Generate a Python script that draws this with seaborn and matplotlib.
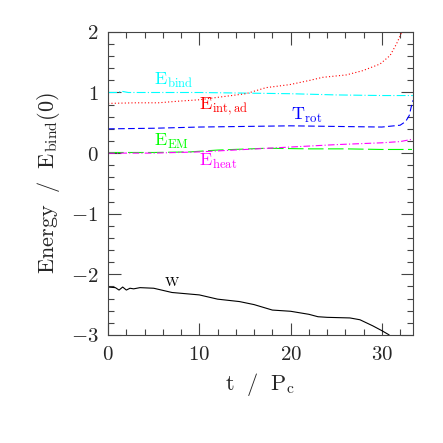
import matplotlib
matplotlib.use("Agg")
import matplotlib.pyplot as plt
import seaborn as sns
import numpy as np
import pandas as pd
from matplotlib.ticker import MultipleLocator

# ---- data ----
t_bind = [0, 1.0, 1.5, 2.2, 5, 10, 15, 20, 25, 30, 33.4]
e_bind = [1.0, 1.0, 1.02, 1.0, 1.0, 1.0, 0.99, 0.98, 0.96, 0.95, 0.95]

t_int = [0, 3, 5.5, 8, 10, 12, 15.1, 17.3, 19.9, 22.1, 23.5, 26.1, 27.9, 29.8, 30.9, 31.6, 32.2]
e_int = [0.82, 0.83, 0.83, 0.86, 0.88, 0.92, 0.98, 1.08, 1.13, 1.20, 1.25, 1.29, 1.36, 1.47, 1.61, 1.80, 2.0]

t_rot = [0, 5, 10, 15, 20, 25, 30, 32, 32.6, 33.0, 33.2, 33.4]
e_rot = [0.40, 0.41, 0.43, 0.44, 0.45, 0.44, 0.43, 0.46, 0.52, 0.62, 0.75, 0.87]

t_em = [0, 5, 9, 12, 17.3, 22, 26, 30, 33.3]
e_em = [0.01, 0.01, 0.02, 0.05, 0.08, 0.07, 0.07, 0.06, 0.06]

t_heat = [0, 5, 10, 15, 20, 25, 30, 32, 33.4]
e_heat = [0.0, 0.0, 0.02, 0.06, 0.10, 0.14, 0.17, 0.19, 0.23]

t_w = [0, 0.8, 1.2, 1.6, 2.0, 2.4, 2.8, 3.5, 5, 7, 10, 12, 14.4, 16, 18, 20, 22, 23,
       24, 26.5, 27.6, 29, 30, 30.8]
e_w = [-2.21, -2.22, -2.26, -2.21, -2.26, -2.23, -2.24, -2.22, -2.23, -2.30, -2.34,
       -2.41, -2.45, -2.50, -2.59, -2.61, -2.66, -2.70, -2.71, -2.72, -2.75, -2.85,
       -2.93, -3.0]

x_ticks = [0, 10, 20, 30]
x_ticklabels = ["$0$", "$10$", "$20$", "$30$"]
y_ticks = [-3, -2, -1, 0, 1, 2]
y_ticklabels = ["$-3$", "$-2$", "$-1$", "$0$", "$1$", "$2$"]

labels = ["$\\mathrm{E_{bind}}$", "$\\mathrm{E_{int,ad}}$", "$\\mathrm{T_{rot}}$",
          "$\\mathrm{E_{EM}}$", "$\\mathrm{E_{heat}}$", "$\\mathrm{W}$"]

# ---- style ----
sns.set_style("ticks")
plt.rcParams["mathtext.fontset"] = "cm"
plt.rcParams["font.family"] = ["DejaVu Serif"]

fig = plt.figure(figsize=(4.43, 4.43), dpi=100)
ax = fig.add_axes([0.244, 0.244, 0.688, 0.684])

series = [
    (t_bind, e_bind, "#00ffff", (0, (8, 2, 1, 2))),
    (t_int, e_int, "#ff0000", (0, (1, 2))),
    (t_rot, e_rot, "#0000ff", (0, (6, 3))),
    (t_em, e_em, "#00ff00", (0, (14, 4))),
    (t_heat, e_heat, "#ff00ff", (0, (6, 2, 1, 2))),
    (t_w, e_w, "#000000", "-"),
]
for t, e, c, ls in series:
    df = pd.DataFrame({"t": t, "e": e})
    sns.lineplot(data=df, x="t", y="e", ax=ax, color=c, linewidth=0.8,
                 linestyle=ls, sort=False, estimator=None)

# curve labels
ax.text(5.0, 1.2, labels[0], color="#00ffff", fontsize=13, va="center", ha="left")
ax.text(10.0, 0.77, labels[1], color="#ff0000", fontsize=13, va="center", ha="left")
ax.text(20.0, 0.62, labels[2], color="#0000ff", fontsize=13, va="center", ha="left")
ax.text(5.0, 0.19, labels[3], color="#00ff00", fontsize=13, va="center", ha="left")
ax.text(10.0, -0.13, labels[4], color="#ff00ff", fontsize=13, va="center", ha="left")
ax.text(6.1, -2.12, labels[5], color="#000000", fontsize=10, va="center", ha="left")

ax.set_xlim(0, 33.4)
ax.set_ylim(-3, 2)
ax.set_xticks(x_ticks)
ax.set_xticklabels(x_ticklabels, fontsize=15)
ax.set_yticks(y_ticks)
ax.set_yticklabels(y_ticklabels, fontsize=15)
ax.xaxis.set_minor_locator(MultipleLocator(2))
ax.yaxis.set_minor_locator(MultipleLocator(0.2))
ax.tick_params(which="both", direction="in", top=True, right=True, width=0.8, color="#444444")
ax.tick_params(which="major", length=9, pad=7)
ax.tick_params(which="minor", length=4.5)
for s in ax.spines.values():
    s.set_linewidth(0.8)
    s.set_color("#444444")

ax.set_xlabel("$\\mathrm{t\\ \\ /\\ \\ P_c}$", fontsize=16, labelpad=5)
ax.set_ylabel("$\\mathrm{Energy\\ \\ /\\ \\ E_{bind}(0)}$", fontsize=16, labelpad=6)

fig.savefig("out.png", dpi=100)
